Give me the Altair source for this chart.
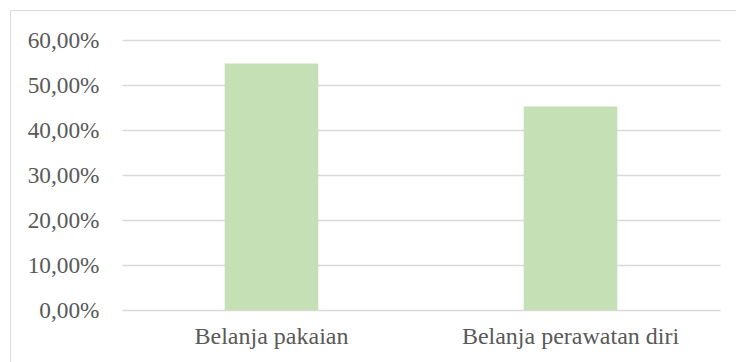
import altair as alt
import pandas as pd

categories = ["Belanja pakaian", "Belanja perawatan diri"]
values = [54.8, 45.2]
tick_values = [0, 10, 20, 30, 40, 50, 60]

df = pd.DataFrame({"kategori": categories, "persen": values})

FONT = "Liberation Serif"
TEXT = "#595959"
GRID = "#d9d9d9"

bars = alt.Chart(df).mark_bar(color="#c5e0b4").encode(
    x=alt.X(
        "kategori:N",
        sort=categories,
        title=None,
        scale=alt.Scale(paddingInner=0.687, paddingOuter=0.3435),
        axis=alt.Axis(
            labelAngle=0,
            labelFont=FONT,
            labelFontSize=24,
            labelColor=TEXT,
            labelPadding=14,
            labelLimit=0,
            ticks=False,
            tickSize=0,
            domain=False,
            grid=False,
        ),
    ),
    y=alt.Y(
        "persen:Q",
        title=None,
        scale=alt.Scale(domain=[0, 60], nice=False),
        axis=alt.Axis(
            values=tick_values,
            labelExpr="replace(format(datum.value, '.2f'), '.', ',') + '%'",
            labelFont=FONT,
            labelFontSize=23.3,
            labelColor=TEXT,
            labelPadding=23,
            labelLimit=0,
            ticks=False,
            tickSize=0,
            domain=False,
            grid=True,
            gridColor=GRID,
            gridWidth=1.4,
        ),
    ),
)

frame = alt.Chart(alt.Data(values=[{"f": 1}])).mark_rect(
    fill=None, stroke=GRID, strokeWidth=1
).encode(
    x=alt.value(-111.5),
    x2=alt.value(640),
    y=alt.value(-29.5),
    y2=alt.value(400),
)

chart = alt.layer(frame, bars).properties(
    width=598,
    height=270,
    background="white",
    autosize=alt.AutoSizeParams(type="none"),
    padding={"left": 122, "top": 40, "right": 16, "bottom": 52},
).configure_view(strokeWidth=0)

chart.save("out.html", embed_options={"renderer": "svg", "actions": False})
